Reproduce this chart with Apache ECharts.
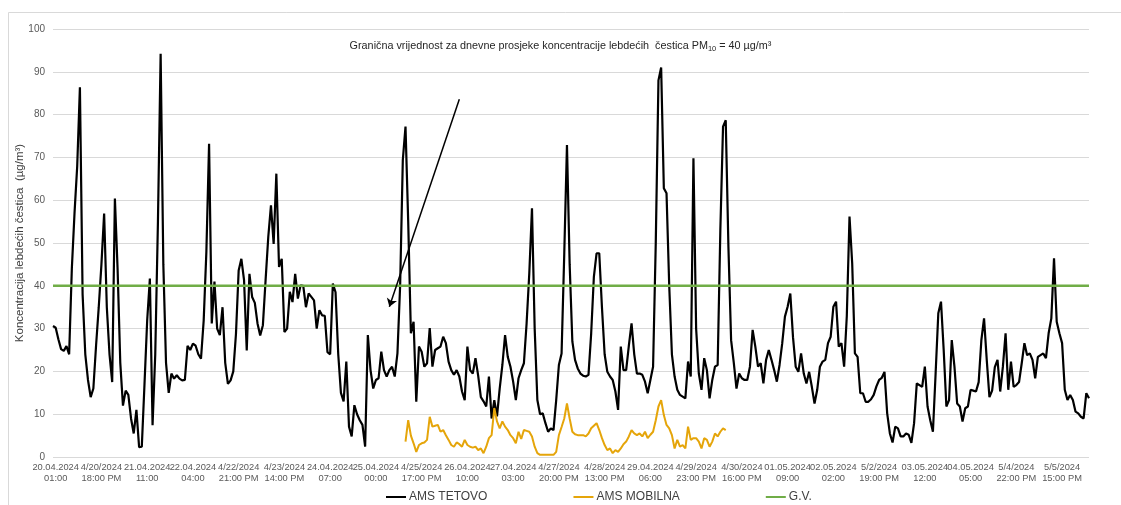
<!DOCTYPE html>
<html>
<head>
<meta charset="utf-8">
<script src="https://cdn.jsdelivr.net/npm/echarts@6/dist/echarts.min.js"></script>
<style>
  html, body { margin: 0; padding: 0; background: #fff; }
  #chart { width: 1121px; height: 505px; }
</style>
</head>
<body>
<div id="chart"></div>
<script>
// Hourly PM10 readings from 20.04.2024 00:00 onward (µg/m³)
const amsTetovo = [
  30.6, 30.2, 27.5, 25.2, 24.8, 25.9, 24.0, 44, 57, 68,
  86.4, 38, 24, 18, 14, 16, 26, 35, 45, 56.9,
  35, 24, 17.5, 60.4, 44, 22, 12, 15.5, 14.5, 9,
  5.5, 11, 2.3, 2.4, 17, 31.9, 41.7, 7.4, 24, 55,
  94.2, 45, 22, 15, 19.5, 18.3, 19.1, 18.3, 17.9, 18,
  26, 25, 26.5, 26, 24, 23, 31.9, 48, 73.2, 31.2,
  41, 30, 28.5, 35, 22, 17.1, 17.9, 20, 28.8, 43.6,
  46.3, 41.3, 24.9, 42.8, 37.4, 36, 31.2, 28.4, 30.8, 41.3,
  51.4, 58.8, 49.8, 66.2, 44.4, 46.3, 29.2, 30, 38.6, 36.2,
  42.8, 37, 40.1, 40, 35, 38.2, 37.4, 36.6, 30, 34.3,
  33.1, 33, 24.5, 24, 40.5, 38.5, 24, 15, 13, 22.3,
  7.1, 4.8, 12.1, 10, 8.6, 7.5, 2.4, 28.5, 20.3, 16,
  18, 18.4, 24.6, 20.3, 18.8, 20.3, 21.1, 18.8, 24.2, 40,
  69.4, 77.2, 55, 28.9, 31.6, 12.9, 25.8, 24.6, 21.1, 21.9,
  30.1, 21.1, 25, 25.4, 25.8, 28.1, 26.6, 22.3, 20.3, 19.2,
  20.3, 18.8, 15.3, 13.3, 25.8, 20.3, 19.5, 23.1, 19, 14,
  13, 11.8, 18.8, 9, 13.3, 9.5, 16, 21.5, 28.5, 23.4,
  21.1, 17.6, 13.3, 18.4, 20.3, 21.9, 31.2, 42.9, 58.1, 30,
  13.3, 10, 10.2, 7.9, 5.9, 6.7, 6.3, 13.3, 21.5, 24.2,
  47.6, 72.9, 45, 27, 22.7, 20.7, 19.5, 19, 18.8, 19.2,
  28.9, 42.1, 47.6, 47.6, 35, 24, 19.9, 18.8, 18, 15.3,
  11, 25.8, 20.3, 20.3, 26, 31.2, 24, 19.5, 19.5, 19.2,
  17.6, 14.9, 18, 21.1, 50, 88, 91, 62.8, 61.6, 40,
  24, 18.8, 15.7, 14.5, 14.1, 13.7, 22.3, 18.8, 69.8, 30,
  19.5, 15.7, 23.1, 20.3, 13.7, 18, 21.1, 21.5, 53, 77.2,
  78.7, 49.1, 27.3, 22, 16, 19.5, 18.4, 18, 18, 21.1,
  29.7, 25.8, 21.1, 21.9, 17.2, 22.7, 25, 22.7, 20.3, 17.6,
  21.5, 26.6, 32.8, 35.1, 38.2, 28, 21.1, 19.9, 24.2, 19.5,
  17.2, 19.9, 16.4, 12.5, 15.7, 21.1, 22.3, 22.7, 26.6, 28.1,
  35.1, 36.3, 25.8, 26.6, 21.1, 33, 56.2, 45.2, 24.2, 23.4,
  14.9, 14.9, 12.9, 12.9, 13.5, 14.5, 16.5, 18, 18.5, 19.9,
  10.2, 5.5, 3.4, 7.1, 6.7, 4.8, 4.8, 5.5, 5.2, 3.3,
  7.9, 17.2, 16.8, 16.4, 21.1, 11.8, 8.6, 5.9, 19.5, 33.6,
  36.3, 25, 11.8, 13.3, 27.3, 21.1, 12.5, 11.8, 8.3, 11.4,
  11.8, 15.7, 15.5, 15.3, 17.5, 27.3, 32.4, 22.7, 14, 15.5,
  21, 22.7, 15.3, 21.1, 28.9, 15.7, 22.3, 16.4, 16.8, 17.5,
  21.9, 26.6, 23.8, 24.2, 22.7, 18.4, 23.4, 23.8, 24.2, 23.1,
  28.9, 32.4, 46.4, 31.6, 28.9, 26.6, 15.7, 13.3, 14.5, 13.3,
  10.6, 10.2, 9.4, 9, 14.9, 13.7
];

// Mobile station: first hour it reports, then its hourly readings
const mobilnaStart = 131;
const amsMobilna = [
  3.6, 8.6, 5, 3.2, 1.2, 2.8, 3.2, 3.4, 4, 9.4,
  7.1, 7.3, 7.5, 5.9, 6.3, 5.1, 4, 2.8, 2.4, 3.4,
  3, 2.4, 4, 2.8, 2.4, 2.2, 2.4, 1.6, 2, 0.9,
  2.4, 4.4, 5.1, 11.4, 8.3, 6.7, 8.3, 7.1, 6.3, 5.1,
  4.4, 3.2, 5.9, 4.2, 6.3, 6.1, 5.9, 4.8, 2.4, 0.9,
  0.5, 0.5, 0.5, 0.5, 0.5, 0.5, 1.2, 5.1, 7, 9,
  12.5, 9, 5.9, 5.3, 5.1, 5.1, 5.1, 4.8, 5.5, 6.7,
  7.3, 7.9, 6.3, 4.4, 2.8, 1.6, 2, 0.9, 1.6, 1.2,
  2, 3, 3.6, 4.8, 6.3, 5.5, 5.1, 5.5, 4.8, 5.9,
  4.4, 5.2, 5.9, 8.6, 11.8, 13.3, 9.8, 7.5, 6.7, 5.1,
  2, 4, 2.4, 2.8, 2, 7.1, 4, 4.4, 4.4, 3.6,
  2, 4.4, 4, 2.4, 3.6, 5.5, 4.8, 5.9, 6.7, 6.3
];

// Daily limit value (G.V.)
const limitValue = 40;

// Category axis labels, one every 17 hours starting at 01:00
const tickLabels = [
  '20.04.2024\n01:00', '4/20/2024\n18:00 PM', '21.04.2024\n11:00', '22.04.2024\n04:00',
  '4/22/2024\n21:00 PM', '4/23/2024\n14:00 PM', '24.04.2024\n07:00', '25.04.2024\n00:00',
  '4/25/2024\n17:00 PM', '26.04.2024\n10:00', '27.04.2024\n03:00', '4/27/2024\n20:00 PM',
  '4/28/2024\n13:00 PM', '29.04.2024\n06:00', '4/29/2024\n23:00 PM', '4/30/2024\n16:00 PM',
  '01.05.2024\n09:00', '02.05.2024\n02:00', '5/2/2024\n19:00 PM', '03.05.2024\n12:00',
  '04.05.2024\n05:00', '5/4/2024\n22:00 PM', '5/5/2024\n15:00 PM'
];
const labelStep = 17;
const labelOffset = 1;

// Annotation arrow: [hour index, value] of the tip and of the tail
const arrowTip = [125, 35.1];
const arrowTail = [151, 83.6];

const hours = amsTetovo.map((_, i) => String(i));
const mobilnaSeries = hours.map((_, i) => {
  const k = i - mobilnaStart;
  return (k >= 0 && k < amsMobilna.length) ? amsMobilna[k] : null;
});
const limitSeries = hours.map(() => limitValue);

const FONT = "'Liberation Sans', Arial, sans-serif";

const chart = echarts.init(document.getElementById('chart'), null, { renderer: 'canvas' });
chart.setOption({
  animation: false,
  backgroundColor: '#ffffff',
  title: {
    text: 'Granična vrijednost za dnevne prosjeke koncentracije lebdećih  čestica PM{sub|10} = 40 µg/m³',
    left: 'center',
    top: 40,
    padding: 0,
    textStyle: {
      fontFamily: FONT,
      fontSize: 10.8,
      fontWeight: 'normal',
      color: '#262626',
      rich: {
        sub: { fontFamily: FONT, fontSize: 7.5, color: '#262626', padding: [5, 0, 0, 0] }
      }
    }
  },
  graphic: [{
    type: 'rect',
    shape: { x: 8.5, y: 12.5, width: 1300, height: 700 },
    style: { fill: 'none', stroke: '#d9d9d9', lineWidth: 1 },
    silent: true
  }],
  legend: {
    left: 386,
    top: 491,
    padding: 0,
    itemGap: 86,
    itemWidth: 20,
    itemHeight: 2,
    icon: 'rect',
    textStyle: { fontFamily: FONT, fontSize: 12, color: '#404040', padding: [0, 0, 0, -2] },
    data: ['AMS TETOVO', 'AMS MOBILNA', 'G.V.']
  },
  grid: { left: 53, right: 32, top: 29, bottom: 48, containLabel: false },
  xAxis: {
    type: 'category',
    data: hours,
    boundaryGap: false,
    axisLine: { show: false },
    axisTick: { show: false },
    splitLine: { show: false },
    axisLabel: {
      interval: (index) => index % labelStep === labelOffset,
      formatter: (value, index) => tickLabels[(index - labelOffset) / labelStep] || '',
      fontFamily: FONT,
      fontSize: 9.3,
      lineHeight: 11,
      color: '#595959',
      margin: 5
    }
  },
  yAxis: {
    type: 'value',
    min: 0,
    max: 100,
    interval: 10,
    name: 'Koncentracija lebdećih čestica  (µg/m³)',
    nameLocation: 'middle',
    nameGap: 27,
    nameMoveOverlap: false,
    nameTextStyle: { fontFamily: FONT, fontSize: 11.5, color: '#404040' },
    axisLine: { show: false },
    axisTick: { show: false },
    axisLabel: { fontFamily: FONT, fontSize: 10, color: '#595959', margin: 8 },
    splitLine: { lineStyle: { color: '#d9d9d9', width: 1 } }
  },
  series: [
    {
      name: 'AMS TETOVO',
      type: 'line',
      data: amsTetovo,
      color: '#000000',
      showSymbol: false,
      symbol: 'none',
      lineStyle: { color: '#000000', width: 2.2 },
      z: 2,
      markLine: {
        silent: true,
        symbol: ['arrow', 'none'],
        symbolSize: 8,
        label: { show: false },
        lineStyle: { color: '#000000', width: 1.5, type: 'solid' },
        data: [[{ coord: arrowTip }, { coord: arrowTail }]]
      }
    },
    {
      name: 'AMS MOBILNA',
      type: 'line',
      data: mobilnaSeries,
      color: '#E5A50A',
      showSymbol: false,
      symbol: 'none',
      connectNulls: false,
      lineStyle: { color: '#E5A50A', width: 2 },
      z: 3
    },
    {
      name: 'G.V.',
      type: 'line',
      data: limitSeries,
      color: '#70AD47',
      showSymbol: false,
      symbol: 'none',
      lineStyle: { color: '#70AD47', width: 2.5 },
      z: 4
    }
  ]
});
</script>
</body>
</html>
